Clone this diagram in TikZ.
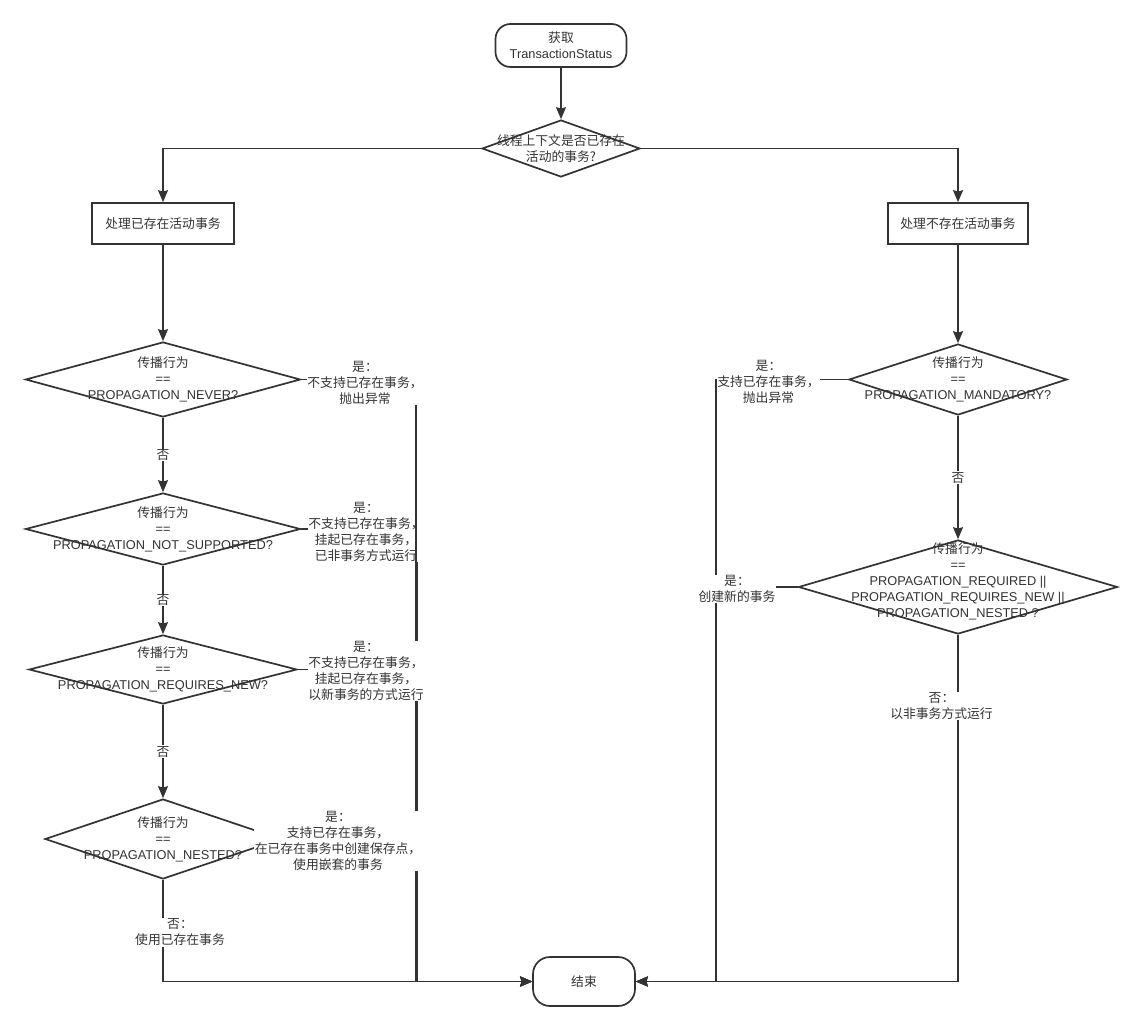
\documentclass[tikz,border=0pt]{standalone}
\usepackage{fontspec}
\setmainfont{Liberation Sans}
\newfontfamily\cjk{Noto Sans CJK SC}
\newcommand{\zh}[1]{{\cjk #1}}
\usetikzlibrary{arrows.meta, positioning, calc, shapes.geometric}
\definecolor{LineGray}{HTML}{333333}

\begin{document}
\begin{tikzpicture}[x=1pt, y=-1pt, >={Stealth[length=12pt, width=10pt, inset=1.5pt]}, line width=1.7pt, color=LineGray,
    every node/.style={font=\fontsize{12.8}{16}\selectfont, align=center},
    term/.style={draw, rounded corners=15pt, minimum width=131pt, minimum height=43pt},
    proc/.style={draw, rectangle, minimum width=142pt, minimum height=41pt},
    dia/.style={draw, diamond, inner sep=0pt},
    lbl/.style={fill=white, inner sep=0.5pt},
    arr/.style={->}]
        \useasboundingbox (0,0) rectangle (1143,1032);
        \fill[white] (0,0) rectangle (1143,1032);

        % Start and end
        \node[term] (start) at (561,45.5) {\zh{获取}\\TransactionStatus};
        \node[term, rounded corners=17pt, minimum width=102pt, minimum height=49pt] (endN) at (584,981.5) {\zh{结束}};

        % First question
        \node[dia, minimum width=158pt, minimum height=57pt,
            label={center:{\zh{线程上下文是否已存在}\\\zh{活动的事务?}}}] (dMain) at (561,148.5) {};
        \node[proc] (boxL) at (163,223.5) {\zh{处理已存在活动事务}};
        \node[proc, minimum width=140pt] (boxR) at (958,223.5) {\zh{处理不存在活动事务}};

        % Left column
        \node[dia, minimum width=275pt, minimum height=75pt,
            label={center:{\zh{传播行为}\\==\\PROPAGATION\_NEVER?}}] (dNever) at (163,379.5) {};
        \node[dia, minimum width=275pt, minimum height=72pt,
            label={center:{\zh{传播行为}\\==\\PROPAGATION\_NOT\_SUPPORTED?}}] (dNotSup) at (163,529) {};
        \node[dia, minimum width=268pt, minimum height=69pt,
            label={center:{\zh{传播行为}\\==\\PROPAGATION\_REQUIRES\_NEW?}}] (dReqNew) at (163,669.5) {};
        \node[dia, minimum width=236pt, minimum height=80pt,
            label={center:{\zh{传播行为}\\==\\PROPAGATION\_NESTED?}}] (dNested) at (163,839) {};

        % Right column
        \node[dia, minimum width=218pt, minimum height=71pt,
            label={center:{\zh{传播行为}\\==\\PROPAGATION\_MANDATORY?}}] (dMand) at (958,379.5) {};
        \node[dia, minimum width=319pt, minimum height=94pt,
            label={[yshift=6pt]center:{\zh{传播行为}\\==\\PROPAGATION\_REQUIRED ||\\PROPAGATION\_REQUIRES\_NEW ||\\PROPAGATION\_NESTED ?}}] (dReq) at (958,587) {};

        % Bus lines down to the end
        \coordinate (busA) at (416,0);
        \coordinate (busB) at (416.8,0);
        \coordinate (busC) at (415.4,0);
        \coordinate (busD) at (416.3,0);
        \coordinate (busR) at (716,0);

        % Main flow
        \draw[arr] (start) -- (dMain);
        \draw[arr] (dMain.west) -| (boxL);
        \draw[arr] (dMain.east) -| (boxR);
        \draw[arr] (boxL) -- (dNever);
        \draw[arr] (dNever) -- node[lbl] {\zh{否}} (dNotSup);
        \draw[arr] (dNotSup) -- node[lbl] {\zh{否}} (dReqNew);
        \draw[arr] (dReqNew) -- node[lbl] {\zh{否}} (dNested);
        \draw[arr] (boxR) -- (dMand);
        \draw[arr] (dMand) -- node[lbl] {\zh{否}} (dReq);

        % Yes branches, left
        \draw[arr] (dNotSup.east) -| (busB |- endN.west) -- (endN.west);
        \node[lbl] (yNotSup) at (366,531.5) {\zh{是：}\\\zh{不支持已存在事务，}\\\zh{挂起已存在事务，}\\\zh{已非事务方式运行}};
        \draw[arr] (dNever.east) -| (busA |- endN.west) -- (endN.west);
        \draw[arr] (dReqNew.east) -| (busC |- endN.west) -- (endN.west);
        \draw[arr] (dNested.east) -| (busD |- endN.west) -- (endN.west);
        \draw[arr] (dNested.south) |- (endN.west);
        \node[lbl] (yNever) at (365,383) {\zh{是：}\\\zh{不支持已存在事务，}\\\zh{抛出异常}};
        \node[lbl] (yReqNew) at (366,671) {\zh{是：}\\\zh{不支持已存在事务，}\\\zh{挂起已存在事务，}\\\zh{以新事务的方式运行}};
        \node[lbl] (yNested) at (338,841) {\zh{是：}\\\zh{支持已存在事务，}\\\zh{在已存在事务中创建保存点，}\\\zh{使用嵌套的事务}};
        \node[lbl] (nNested) at (180,932.5) {\zh{否：}\\\zh{使用已存在事务}};

        % Yes branches, right
        \draw[arr] (dMand.west) -| (busR |- endN.east) -- (endN.east);
        \draw[arr] (dReq.west) -| (busR |- endN.east) -- (endN.east);
        \draw[arr] (dReq.south) |- (endN.east);
        \node[lbl] (yMand) at (768.5,382) {\zh{是：}\\\zh{支持已存在事务，}\\\zh{抛出异常}};
        \node[lbl] (yReq) at (737,589) {\zh{是：}\\\zh{创建新的事务}};
        \node[lbl] (nReq) at (941.5,706) {\zh{否：}\\\zh{以非事务方式运行}};
    \end{tikzpicture}
\end{document}
